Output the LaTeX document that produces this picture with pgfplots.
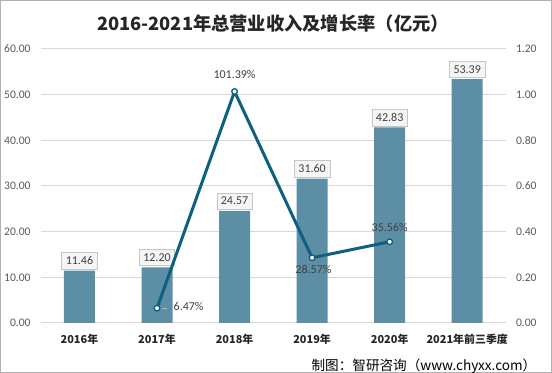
\documentclass[border=0pt]{standalone}
\usepackage{pgfplots}
\pgfplotsset{compat=1.18}
\usepackage{fontspec}
\setmainfont{Carlito}
\newfontfamily\cjk{Noto Sans CJK SC}
\definecolor{barc}{RGB}{92,143,166}
\definecolor{linec}{RGB}{14,96,128}
\definecolor{tickc}{RGB}{89,89,89}
\definecolor{gridc}{RGB}{217,217,217}
\definecolor{labc}{RGB}{64,64,64}
\begin{document}
\begin{tikzpicture}[x=0.75pt,y=0.75pt]
\useasboundingbox (0,0) rectangle (552,373);
\draw[draw=gray!60, line width=0.75pt] (0.4,0.4) rectangle (551.6,372.6);
\node[font=\cjk\bfseries\fontsize{13.7}{15}\selectfont, text=black!85] at (273,349) {2016-2021年总营业收入及增长率（亿元）};
\node[font=\cjk\fontsize{10.2}{12}\selectfont, anchor=east] at (541,7) {制图：智研咨询（www.chyxx.com）};
\begin{axis}[
  at={(30.5pt,37.5pt)}, anchor=south west,
  scale only axis, width=349pt, height=205.5pt,
  xmin=-0.5, xmax=5.5, ymin=0, ymax=60,
  ytick={0,10,...,60},
  xtick={0,1,2,3,4,5},
  xticklabels={2016年,2017年,2018年,2019年,2020年,2021年前三季度},
  xticklabel style={font=\cjk\bfseries\fontsize{8.2}{10}\selectfont, text=black!85, yshift=-5pt},
  yticklabel style={font=\fontsize{8.7}{10}\selectfont, text=tickc, xshift=-4pt},
  /pgf/number format/.cd, fixed, zerofill, precision=2, assume math mode=true, /pgfplots/.cd,
  axis line style={draw=none},
  major tick length=0pt,
  ymajorgrids, grid style={draw=gridc, line width=0.75pt},
  ybar, bar width=23.25pt,
  nodes near coords,
  every node near coord/.append style={font=\fontsize{9}{10}\selectfont, text=labc, draw=gray!45, fill=gray!8, inner xsep=3pt, inner ysep=3.2pt, yshift=1pt},
  clip=false,
]
\addplot[fill=barc, draw=none] coordinates {(0,11.46) (1,12.20) (2,24.57) (3,31.60) (4,42.83) (5,53.39)};
\end{axis}
\begin{axis}[
  at={(30.5pt,37.5pt)}, anchor=south west,
  scale only axis, width=349pt, height=205.5pt,
  xmin=-0.5, xmax=5.5, ymin=0, ymax=1.2,
  ytick={0,0.2,...,1.2},
  axis y line*=right, axis x line=none,
  yticklabel style={font=\fontsize{8.7}{10}\selectfont, text=tickc, xshift=4pt},
  /pgf/number format/.cd, fixed, zerofill, precision=2, assume math mode=true, /pgfplots/.cd,
  axis line style={draw=none},
  major tick length=0pt,
  clip=false,
]
\addplot[color=gray!60, line width=0.6pt, mark=none] coordinates {(1.06,0.0647) (1.13,0.0647)};
\addplot[color=linec, line width=2.25pt, mark=*, mark size=2.1pt, mark options={fill=white, draw=linec, line width=1pt}] coordinates {(1,0.0647) (2,1.0139) (3,0.2857) (4,0.3556)};
% labels
\addplot[draw=none, mark=none, nodes near coords={101.39\%}, every node near coord/.append style={font=\fontsize{9}{10}\selectfont, text=labc, anchor=center, yshift=12.5pt}] coordinates {(2,1.0139)};
\addplot[draw=none, mark=none, nodes near coords={35.56\%}, every node near coord/.append style={font=\fontsize{9}{10}\selectfont, text=labc, anchor=center, yshift=11pt}] coordinates {(4,0.3556)};
\addplot[draw=none, mark=none, nodes near coords={28.57\%}, every node near coord/.append style={font=\fontsize{9}{10}\selectfont, text=labc, anchor=center, yshift=-9pt, xshift=1pt}] coordinates {(3,0.2857)};
\addplot[draw=none, mark=none, nodes near coords={6.47\%}, every node near coord/.append style={font=\fontsize{9}{10}\selectfont, text=labc, anchor=west, xshift=9pt, yshift=1pt}] coordinates {(1,0.0647)};
\end{axis}
\end{tikzpicture}
\end{document}
